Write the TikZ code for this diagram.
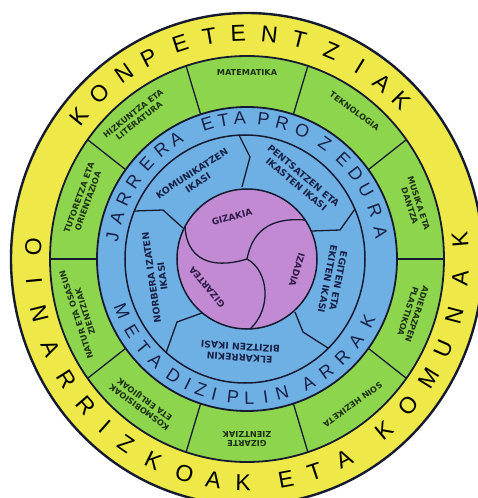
\documentclass[tikz,border=0pt]{standalone}
\usepackage{fontspec}
\setmainfont{Liberation Sans}
\newfontfamily\labelfont{DejaVu Sans}
\definecolor{ringyellow}{RGB}{238,232,72}
\definecolor{ringgreen}{RGB}{142,213,78}
\definecolor{ringblue}{RGB}{111,176,228}
\definecolor{corepurple}{RGB}{193,138,210}
\definecolor{inkline}{RGB}{22,26,48}
\definecolor{textnavy}{RGB}{24,34,72}
\definecolor{textgreen}{RGB}{28,48,20}
\definecolor{textpurple}{RGB}{48,26,72}
\begin{document}
\begin{tikzpicture}[x=1pt, y=1pt,
  ring/.style={draw=inkline, line width=1.8pt},
  divider/.style={draw=inkline, line width=1.3pt},
  bigletter/.style={font=\fontsize{23}{23}\selectfont, inner sep=0pt},
  midletter/.style={font=\fontsize{18}{18}\selectfont, text=textnavy, inner sep=0pt},
  subject/.style={font=\labelfont\bfseries\fontsize{8.2}{9.4}\selectfont, text=textgreen, align=center, inner sep=0pt},
  skill/.style={font=\labelfont\bfseries\fontsize{9.3}{11}\selectfont, text=textnavy, align=center, inner sep=0pt},
  core/.style={font=\labelfont\bfseries\fontsize{9}{10}\selectfont, text=textpurple, inner sep=0pt}]
\useasboundingbox (-247,-239) rectangle (230,259);

% rings, outside in
\fill[ringyellow] (0,0) ellipse [x radius=236, y radius=246];
\draw[ring, line width=2.4pt] (0,0) ellipse [x radius=236, y radius=246];
\filldraw[ring, fill=ringgreen] (0,0) ellipse [x radius=197, y radius=203];
\filldraw[ring, fill=ringblue] (0,0) ellipse [x radius=150, y radius=152];
\draw[ring, line width=1.5pt] (-2,0) ellipse [x radius=120, y radius=124];

% subject cells
\foreach \a in {0,36,...,324}
  \draw[divider] (\a:150 and 152) -- (\a:197 and 203);

% skill sectors
\draw[divider] (-8,124) -- (3,102) -- (-5,72);
\draw[divider] (108,50) -- (93,29) -- (65,28);
\draw[divider] (81,-89) -- (56,-73) -- (48,-53);
\draw[divider] (-81,-94) -- (-70,-63) -- (-45,-54);
\draw[divider] (-112,48) -- (-84,49) -- (-64,31);

% core
\filldraw[ring, line width=1.5pt, fill=corepurple] (0,0) circle (70);
\draw[divider] (0,0) .. controls (-25,-8) and (-60,-8) .. (-62,33);
\draw[divider] (0,0) .. controls (5,25) and (20,42) .. (58,39);
\draw[divider] (0,0) .. controls (22,-12) and (25,-50) .. (3,-70);

% outer ring text
\foreach \ch/\a [count=\i] in {K/141,O/133,N/124.7,P/117,E/108,T/100,E/92.3,N/84,T/76,Z/67,I/58.5,A/51,K/44.5}
  \node[bigletter, rotate=\a-90] (top\i) at (\a:216 and 226) {\ch};
\foreach \ch/\a [count=\i] in {O/177,I/185.5,N/194,A/203.5,R/212.5,R/221,I/228.5,Z/235.5,K/244,O/253,A/261,K/269,
    E/280.5,T/288.5,A/297,K/310,O/319,M/328,U/336.5,N/345.5,A/355,K/365}
  \node[bigletter, rotate=\a+90] (bot\i) at (\a:214 and 224) {\ch};

% blue ring text
\foreach \ch/\a [count=\i] in {J/171,A/163,R/155,R/146.5,E/137.5,R/129,A/121.5,E/107,T/100,A/93,
    P/83,R/75,O/66,Z/55,E/45,D/37,U/29,R/20,A/11}
  \node[midletter, rotate=\a-90] (proc\i) at (\a:136 and 141) {\ch};
\foreach \ch/\a [count=\i] in {M/202,E/211.5,T/219.5,A/227.5,D/237,I/244,Z/250,I/256,P/264,L/271,I/278,N/285,
    A/297,R/306,R/315,A/324,K/333.5}
  \node[midletter, rotate=\a+90] (meta\i) at (\a:135 and 139) {\ch};

% subjects
\foreach \a/\r/\txt [count=\i] in {90/186/MATEMATIKA, 54/183/TEKNOLOGIA, 18/176/{MUSIKA ETA\\DANTZA},
    -18/174/{ADIERAZPEN\\PLASTIKOA}, -54/180/SOIN HEZIKETA, -90/180/{GIZARTE\\ZIENTZIAK},
    -126/178/{KOSMOBISIOAK\\ETA ERLIJIOAK}, -162/175/{NATUR ETA OSASUN\\ZIENTZIAK},
    160/174/{TUTORETZA ETA\\ORIENTAZIOA}, 128/180/{HIZKUNTZA ETA\\LITERATURA}}
  \node[subject, rotate=\a-90] (subj\i) at (\a:\r) {\txt};

% skills
\node[skill, rotate=33] (komun) at (-52,81) {KOMUNIKATZEN\\IKASI};
\node[skill, rotate=-40] (pents) at (53,79) {PENTSATZEN ETA\\IKASTEN IKASI};
\node[skill, rotate=-101] (egit) at (86,-21) {EGITEN ETA\\EKITEN IKASI};
\node[skill, rotate=176] (elkar) at (-7,-93) {ELKARREKIN\\BIZITZEN IKASI};
\node[skill, rotate=98] (norb) at (-90,-18) {NORBERA IZATEN\\IKASI};

% core labels
\node[core, rotate=15] (gizakia) at (-15,42) {GIZAKIA};
\node[core, rotate=-107] (izadia) at (50,-11) {IZADIA};
\node[core, rotate=130] (gizartea) at (-40,-28) {GIZARTEA};
\end{tikzpicture}
\end{document}
